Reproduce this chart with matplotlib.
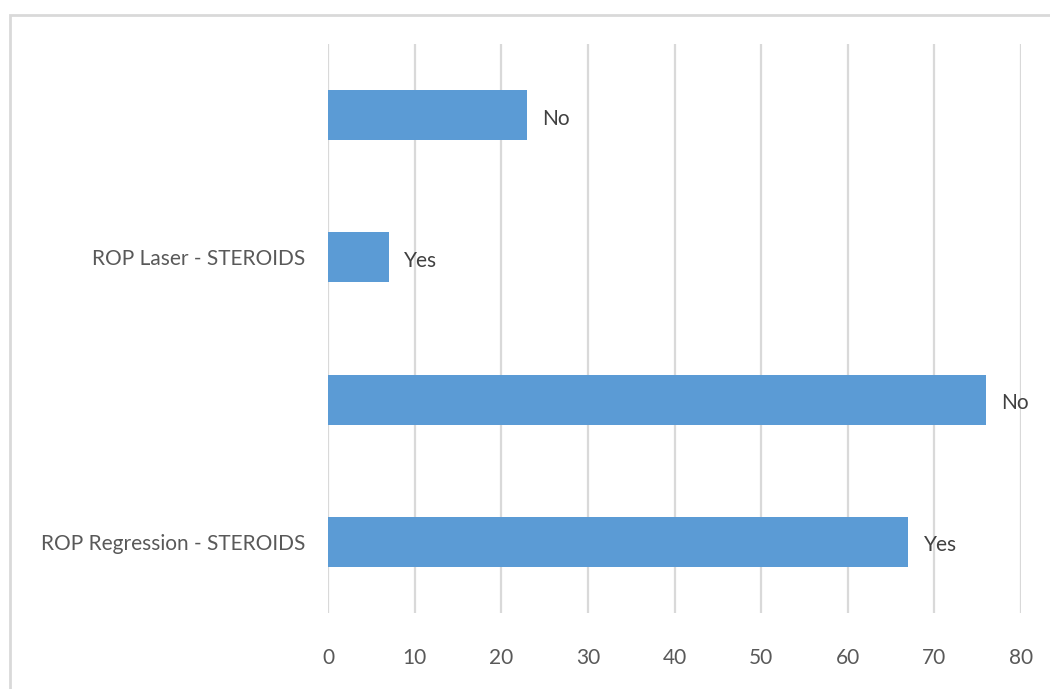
import matplotlib.pyplot as plt
from matplotlib.patches import Rectangle

# bar data, top to bottom
categories = ["", "ROP Laser - STEROIDS", "", "ROP Regression - STEROIDS"]
answers = ["No", "Yes", "No", "Yes"]
values = [23, 7, 76, 67]
xticks = [0, 10, 20, 30, 40, 50, 60, 70, 80]

BAR = "#5B9BD5"
GRID = "#D9D9D9"
TEXT = "#595959"

plt.rcParams["font.family"] = ["Lato", "DejaVu Sans"]

fig = plt.figure(figsize=(10.5, 6.89), dpi=100)
ax = fig.add_axes([328 / 1050, 1 - 613 / 689, (1021 - 328) / 1050, (613 - 44) / 689])

pos = list(range(len(values)))
ax.barh(pos, values, height=0.352, color=BAR, zorder=2)
for y, v, a in zip(pos, values, answers):
    ax.text(v + 1.75, y + 0.025, a, va="center", ha="left", fontsize=15, color="#404040")

ax.set_xlim(0, 80)
ax.set_ylim(3.5, -0.5)
ax.set_xticks(xticks)
ax.set_yticks(pos)
ax.set_yticklabels(categories)
ax.tick_params(axis="x", length=0, pad=25, labelsize=15, labelcolor=TEXT)
ax.tick_params(axis="y", length=0, pad=16.5, labelsize=15, labelcolor=TEXT)
ax.xaxis.grid(True, color=GRID, linewidth=1.6, zorder=0)
ax.set_axisbelow(True)
for s in ax.spines.values():
    s.set_visible(False)

# chart area frame
fig.patches.append(Rectangle((9.5 / 1050, -0.1), 1.2, 1.1 - 15.5 / 689,
                             transform=fig.transFigure, fill=False,
                             edgecolor=GRID, linewidth=2))

plt.savefig("out.png", dpi=100)
plt.close("all")
